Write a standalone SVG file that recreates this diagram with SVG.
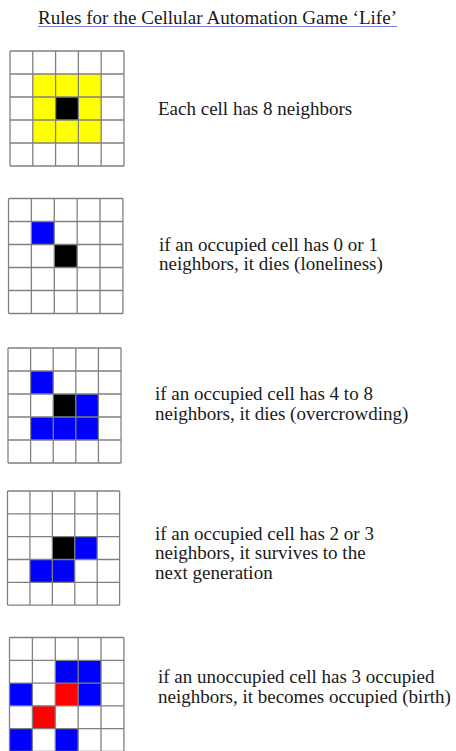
<svg xmlns="http://www.w3.org/2000/svg" xmlns:xlink="http://www.w3.org/1999/xlink" width="456" height="751" viewBox="0 0 456 751">
<style>
  text { font-family: "Liberation Serif", "Times New Roman", serif; font-size: 19px; fill: #1a1a1a; }
  .gl { fill: none; stroke: #808080; stroke-width: 1.3; }
  .y { fill: #ffff00; }
  .b { fill: #0000ff; }
  .k { fill: #000000; }
  .r { fill: #ff0000; }
</style>
<defs>
  <path id="grid" class="gl" d="M0 0H115M0 23H115M0 46H115M0 69H115M0 92H115M0 115H115M0 0V115M23 0V115M46 0V115M69 0V115M92 0V115M115 0V115"/>
</defs>
<rect width="456" height="751" fill="#ffffff"/>
<g id="title">
  <text x="38" y="24" textLength="359" lengthAdjust="spacingAndGlyphs">Rules for the Cellular Automation Game ‘Life’</text>
  <line x1="38" y1="26.5" x2="397" y2="26.5" stroke="#7a7ad8" stroke-width="1"/>
</g>
<g id="grid1" transform="translate(10,51) scale(0.991,1)">
  <rect class="y" x="23" y="23" width="69" height="69"/>
  <rect class="k" x="46" y="46" width="23" height="23"/>
  <use xlink:href="#grid"/>
</g>
<g id="text1"><text x="158" y="115">Each cell has 8 neighbors</text></g>
<g id="grid2" transform="translate(8.5,198.5) scale(0.995,1)">
  <rect class="b" x="23" y="23" width="23" height="23"/>
  <rect class="k" x="46" y="46" width="23" height="23"/>
  <use xlink:href="#grid"/>
</g>
<g id="text2"><text x="159" y="250.5">if an occupied cell has 0 or 1</text><text x="159" y="270">neighbors, it dies (loneliness)</text></g>
<g id="grid3" transform="translate(8,348) scale(0.983,1)">
  <rect class="b" x="23" y="23" width="23" height="23"/>
  <rect class="k" x="46" y="46" width="23" height="23"/>
  <rect class="b" x="69" y="46" width="23" height="23"/>
  <rect class="b" x="23" y="69" width="69" height="23"/>
  <use xlink:href="#grid"/>
</g>
<g id="text3"><text x="155" y="400">if an occupied cell has 4 to 8</text><text x="155" y="420">neighbors, it dies (overcrowding)</text></g>
<g id="grid4" transform="translate(7.5,491) scale(0.975,0.993)">
  <rect class="k" x="46" y="46" width="23" height="23"/>
  <rect class="b" x="69" y="46" width="23" height="23"/>
  <rect class="b" x="23" y="69" width="46" height="23"/>
  <use xlink:href="#grid"/>
</g>
<g id="text4"><text x="155" y="539.5">if an occupied cell has 2 or 3</text><text x="155" y="559">neighbors, it survives to the</text><text x="155" y="578.5">next generation</text></g>
<g id="grid5" transform="translate(9.5,637.5) scale(0.995,0.99)">
  <rect class="b" x="46" y="23" width="46" height="23"/>
  <rect class="b" x="0" y="46" width="23" height="23"/>
  <rect class="r" x="46" y="46" width="23" height="23"/>
  <rect class="b" x="69" y="46" width="23" height="23"/>
  <rect class="r" x="23" y="69" width="23" height="23"/>
  <rect class="b" x="0" y="92" width="23" height="23"/>
  <rect class="b" x="46" y="92" width="23" height="23"/>
  <use xlink:href="#grid"/>
</g>
<g id="text5"><text x="158" y="683">if an unoccupied cell has 3 occupied</text><text x="158" y="702.5">neighbors, it becomes occupied (birth)</text></g>
</svg>
